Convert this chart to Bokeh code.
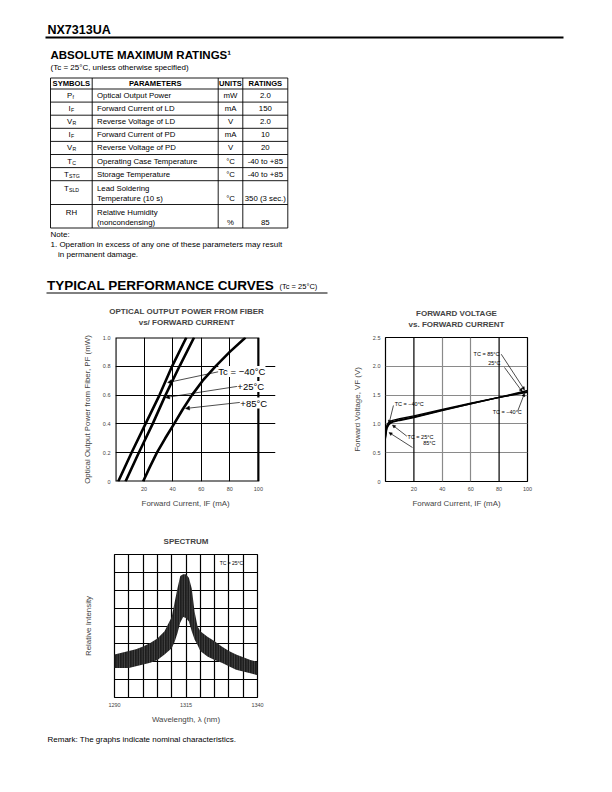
from bokeh.plotting import figure
from bokeh.layouts import column, row, Spacer
from bokeh.models import (Range1d, FixedTicker, Title, Label, Arrow, NormalHead,
                          Span, PrintfTickFormatter, BoxAnnotation)
from bokeh.embed import file_html
from bokeh.resources import INLINE
from bokeh.core.properties import value

FONT = "Liberation Sans"
NBSP = "\u00a0"

# ---------------- table data ----------------
tbl_headers = ["SYMBOLS", "PARAMETERS", "UNITS", "RATINGS"]
sym_main = ["P", "I", "V", "I", "V", "T", "T", "T", "RH"]
sym_sub = ["f", "F", "R", "F", "R", "C", "STG", "SLD", ""]
param_line1 = ["Optical Output Power", "Forward Current of LD", "Reverse Voltage of LD",
               "Forward Current of PD", "Reverse Voltage of PD", "Operating Case Temperature",
               "Storage Temperature", "Lead Soldering", "Relative Humidity"]
param_line2 = ["", "", "", "", "", "", "", "Temperature (10 s)", "(noncondensing)"]
units = ["mW", "mA", "V", "mA", "V", "°C", "°C", "°C", "%"]
ratings = ["2.0", "150", "2.0", "10", "20", "-40 to +85", "-40 to +85", "350 (3 sec.)", "85"]

# ---------------- chart 1: optical output power vs forward current ----------------
op_power = [0.0, 0.2, 0.4, 0.6, 0.8, 1.0]
op_cur_m40 = [1.9, 11.2, 21.0, 30.8, 39.6, 49.6]
op_cur_p25 = [7.0, 16.3, 26.0, 35.0, 44.8, 55.0]
op_power_85 = [0.0, 0.1, 0.2, 0.3, 0.4, 0.5, 0.6, 0.7, 0.8, 0.9, 1.0]
op_cur_p85 = [19.3, 24.0, 29.0, 34.8, 41.0, 47.0, 53.5, 61.0, 70.0, 80.0, 91.0]
op_x_ticks = [20, 40, 60, 80, 100]
op_y_ticks = [0, 0.2, 0.4, 0.6, 0.8, 1.0]

# ---------------- chart 2: forward voltage vs forward current ----------------
fv_current = [0, 0.5, 1, 2, 3, 5, 10, 20, 40, 60, 80, 100]
fv_m40 = [0.82, 0.92, 0.98, 1.02, 1.04, 1.06, 1.09, 1.14, 1.25, 1.36, 1.46, 1.55]
fv_p25 = [0.78, 0.88, 0.94, 0.99, 1.02, 1.04, 1.07, 1.12, 1.24, 1.35, 1.46, 1.56]
fv_p85 = [0.75, 0.85, 0.92, 0.97, 1.00, 1.03, 1.06, 1.11, 1.23, 1.35, 1.46, 1.58]
fv_x_ticks = [20, 40, 60, 80, 100]
fv_y_ticks = [0, 0.5, 1.0, 1.5, 2.0, 2.5]

# ---------------- chart 3: spectrum envelope ----------------
sp_wavelength = [1290, 1292.5, 1295, 1297.5, 1300, 1302.5, 1305, 1307.5, 1310, 1311, 1312,
                 1313, 1314, 1315, 1316, 1317, 1318, 1319, 1320, 1322.5, 1325, 1327.5,
                 1330, 1332.5, 1335, 1337.5, 1340]
sp_upper = [2.4, 2.5, 2.6, 2.7, 2.85, 3.05, 3.3, 3.7, 4.5, 5.3, 6.1, 6.8, 6.9, 6.9, 6.7,
            6.1, 4.8, 4.0, 3.7, 3.4, 3.15, 2.85, 2.6, 2.4, 2.25, 2.1, 2.0]
sp_lower = [1.65, 1.65, 1.65, 1.75, 1.85, 1.95, 2.1, 2.4, 2.75, 3.1, 3.6, 4.2, 4.5, 4.45,
            4.25, 3.7, 3.25, 2.95, 2.6, 2.3, 2.1, 1.95, 1.75, 1.55, 1.45, 1.35, 1.25]
sp_x_ticks = [1290, 1315, 1340]


def page_fig(w, h):
    f = figure(width=w, height=h, x_range=Range1d(0, w), y_range=Range1d(h, 0),
               output_backend="svg", toolbar_location=None, min_border=0,
               x_axis_type=None, y_axis_type=None, title=None)
    f.grid.visible = False
    f.outline_line_color = None
    return f


def txt(f, xs, ys, texts, size, bold=False, align="left"):
    f.text(x=xs, y=ys, text=texts, text_font=value(FONT), text_font_size=size,
           text_font_style="bold" if bold else "normal", text_align=align,
           text_baseline="middle", text_color="black")


# ================= header =================
hdr = page_fig(612, 300)
txt(hdr, [47], [29.5], ["NX7313UA"], "12.5px", bold=True)
hdr.segment(x0=[45], y0=[37], x1=[563], y1=[37], line_color="black", line_width=2)
txt(hdr, [50], [54.5], ["ABSOLUTE MAXIMUM RATINGS¹"], "11.5px", bold=True)
txt(hdr, [50], [66.7], ["(Tc = 25°C, unless otherwise specified)"], "8px")

col_x = [50, 91.7, 217.7, 242.3, 287.3]
row_y = [77.5, 88.5, 101.6, 114.7, 127.8, 140.9, 154.0, 167.1, 180.2, 204.0, 227.5]
hdr.segment(x0=[col_x[0]] * len(row_y), y0=row_y, x1=[col_x[-1]] * len(row_y), y1=row_y,
            line_color="black", line_width=0.9)
hdr.segment(x0=col_x, y0=[row_y[0]] * len(col_x), x1=col_x, y1=[row_y[-1]] * len(col_x),
            line_color="black", line_width=0.9)

col_c = [(col_x[i] + col_x[i + 1]) / 2 for i in range(4)]
txt(hdr, col_c, [83.2] * 4, tbl_headers, "7.6px", bold=True, align="center")

y1s, y2s = [], []
for i in range(len(sym_main)):
    top, bot = row_y[i + 1], row_y[i + 2]
    if param_line2[i]:
        y1s.append(top + 7.5)
        y2s.append(top + 17.5)
    else:
        c = (top + bot) / 2
        y1s.append(c)
        y2s.append(c)

TS = "7.8px"
txt(hdr, [96.5] * len(param_line1), y1s, param_line1, TS)
txt(hdr, [96.5] * len(param_line2), y2s, param_line2, TS)
txt(hdr, [col_c[2]] * len(units), y2s, units, TS, align="center")
txt(hdr, [col_c[3]] * len(ratings), y2s, ratings, TS, align="center")

# symbols with subscripts (approximate glyph widths for centring)
glyph_w = {"P": 5.2, "I": 2.3, "V": 5.2, "T": 4.8, "R": 5.6, "H": 5.6}
main_x, sub_x, sub_y = [], [], []
for i, (m, s) in enumerate(zip(sym_main, sym_sub)):
    wm = sum(glyph_w.get(c, 5.0) for c in m)
    ws = 3.3 * len(s)
    x0 = col_c[0] - (wm + ws) / 2
    main_x.append(x0)
    sub_x.append(x0 + wm + 0.2)
    sub_y.append(y1s[i] + 1.5)
txt(hdr, main_x, y1s, sym_main, TS)
txt(hdr, sub_x, sub_y, sym_sub, "5.2px")

txt(hdr, [50], [233.5], ["Note:"], "8px")
txt(hdr, [50], [244.3], ["1. Operation in excess of any one of these parameters may result"], "8px")
txt(hdr, [57.5], [253.8], ["in permanent damage."], "8px")

txt(hdr, [46.5], [284.5], ["TYPICAL PERFORMANCE CURVES"], "13.5px", bold=True)
txt(hdr, [279], [286], ["(Tc = 25°C)"], "7.5px")
hdr.segment(x0=[46], y0=[292.5], x1=[327], y1=[292.5], line_color="black", line_width=1)


# ================= chart helpers =================
def chart(w, h, xr, yr, left, right, top, bottom):
    p = figure(width=w, height=h, x_range=Range1d(*xr), y_range=Range1d(*yr),
               output_backend="svg", toolbar_location=None, title=None,
               min_border_left=left, min_border_right=right,
               min_border_top=top, min_border_bottom=bottom)
    p.outline_line_color = "black"
    p.outline_line_width = 1.2
    p.outline_line_alpha = 1.0
    for ax in p.axis:
        ax.axis_line_color = None
        ax.major_tick_out = 0
        ax.major_tick_in = 0
        ax.minor_tick_out = 0
        ax.minor_tick_in = 0
        ax.major_label_text_font = FONT
        ax.major_label_text_font_size = "5.5px"
        ax.major_label_standoff = 5
        ax.axis_label_text_font = FONT
        ax.axis_label_text_font_size = "7.9px"
        ax.axis_label_text_font_style = "normal"
    p.xaxis.axis_label_standoff = 5
    p.yaxis.axis_label_standoff = 8
    return p


def add_titles(p, lines, gap_font="7px", pad=0):
    # an invisible spacer title keeps the heading lines clear of the frame
    p.add_layout(Title(text=" ", text_font=FONT, text_font_size=gap_font, standoff=0), "above")
    for t in reversed(lines):
        p.add_layout(Title(text=t + NBSP * pad, align="center", text_font=FONT,
                           text_font_size="8px", text_font_style="bold", standoff=0),
                     "above")


def lab(p, x, y, t, size="7.5px", align="left", bg=None):
    p.add_layout(Label(x=x, y=y, text=t, text_font=FONT, text_font_size=size,
                       text_align=align, text_baseline="middle", text_color="black",
                       background_fill_color=bg))


def arrow(p, x0, y0, x1, y1, size=4):
    p.add_layout(Arrow(end=NormalHead(size=size, line_width=0.5, line_color="black",
                                      fill_color="black"),
                       x_start=x0, y_start=y0, x_end=x1, y_end=y1,
                       line_width=0.7, line_color="black"))


# ================= chart 1 =================
# the frame reaches past 100 mA so the temperature labels can overhang the box
p1 = chart(306, 215, (0, 112), (0, 1.0), 115, 31, 37, 34)
p1.outline_line_color = None
add_titles(p1, ["OPTICAL OUTPUT POWER FROM FIBER", "vs/ FORWARD CURRENT"],
           gap_font="7.5px", pad=8)
p1.xaxis.ticker = FixedTicker(ticks=op_x_ticks)
p1.yaxis.ticker = FixedTicker(ticks=op_y_ticks)
p1.yaxis.formatter = PrintfTickFormatter(format="%.1f")
p1.yaxis.major_label_overrides = {0: "0"}
p1.xaxis.axis_label = "Forward Current, IF (mA)" + NBSP * 9
p1.yaxis.axis_label = "Optical Output Power from Fiber, PF (mW)"
p1.xgrid.ticker = FixedTicker(ticks=op_x_ticks[:-1])
p1.ygrid.ticker = FixedTicker(ticks=op_y_ticks[1:-1])
p1.ygrid.bounds = (0, 100)
for g in (p1.xgrid, p1.ygrid):
    g.grid_line_color = "black"
    g.grid_line_width = 1
p1.add_layout(BoxAnnotation(left=0, right=100, bottom=0, top=1.0, fill_alpha=0,
                            line_color="black", line_width=2.2, line_alpha=1.0))
p1.line(op_cur_m40, op_power, line_color="black", line_width=2.6)
p1.line(op_cur_p25, op_power, line_color="black", line_width=2.6)
p1.line(op_cur_p85, op_power_85, line_color="black", line_width=2.6)
arrow(p1, 72, 0.762, 36.5, 0.687)
arrow(p1, 85, 0.66, 35, 0.583)
arrow(p1, 87, 0.549, 49, 0.507)
lab(p1, 72, 0.764, "Tc = −40°C", size="9.5px", bg="white")
lab(p1, 85.3, 0.66, "+25°C", size="9.5px", bg="white")
lab(p1, 87.4, 0.545, "+85°C", size="9.5px", bg="white")

# ================= chart 2 =================
p2 = chart(306, 215, (0, 100), (0, 2.5), 79, 85, 37, 33)
add_titles(p2, ["FORWARD VOLTAGE", "vs. FORWARD CURRENT"], gap_font="7px")
p2.xaxis.ticker = FixedTicker(ticks=fv_x_ticks)
p2.yaxis.ticker = FixedTicker(ticks=fv_y_ticks)
p2.yaxis.formatter = PrintfTickFormatter(format="%.1f")
p2.yaxis.major_label_overrides = {0: "0"}
p2.xaxis.axis_label = "Forward Current, IF (mA)"
p2.yaxis.axis_label = "Forward Voltage, VF (V)"
p2.xgrid.ticker = FixedTicker(ticks=[40, 60])
p2.ygrid.ticker = FixedTicker(ticks=fv_y_ticks[1:-1])
for g in (p2.xgrid, p2.ygrid):
    g.grid_line_color = "#8a8a8a"
    g.grid_line_width = 1.2
for loc in (20, 80):
    p2.add_layout(Span(location=loc, dimension="height", line_color="black", line_width=1.2))
p2.line(fv_current, fv_m40, line_color="black", line_width=1.4)
p2.line(fv_current, fv_p25, line_color="black", line_width=1.4)
p2.line(fv_current, fv_p85, line_color="black", line_width=1.4)
lab(p2, 62, 2.21, "TC = 85°C", size="5.5px")
lab(p2, 81, 2.05, "25°C", size="5.5px", align="right")
lab(p2, 75.5, 1.21, "TC = −40°C", size="5.5px")
lab(p2, 6.5, 1.35, "TC = −40°C", size="5.5px")
lab(p2, 15.5, 0.775, "TC = 25°C", size="5.5px")
lab(p2, 35.2, 0.67, "85°C", size="5.5px", align="right")
arrow(p2, 81.5, 2.21, 97.9, 1.59, size=3)
arrow(p2, 83.8, 1.98, 96.3, 1.56, size=3)
arrow(p2, 93.2, 1.23, 97.9, 1.53, size=3)
arrow(p2, 5.6, 1.32, 2.5, 1.01, size=3)
arrow(p2, 15, 0.787, 4.9, 0.98, size=3)
arrow(p2, 19, 0.59, 2.5, 0.85, size=3)

# ================= chart 3 =================
p3 = chart(306, 215, (1290, 1340), (0, 8), 114, 49, 39, 33)
add_titles(p3, ["SPECTRUM"], gap_font="7px")
p3.xaxis.ticker = FixedTicker(ticks=sp_x_ticks)
p3.yaxis.ticker = FixedTicker(ticks=[])
p3.yaxis.axis_label_standoff = 22
p3.yaxis.axis_label = "Relative Intensity"
p3.xaxis.axis_label = "Wavelength, λ (nm)"
p3.xgrid.ticker = FixedTicker(ticks=[1295, 1300, 1305, 1310, 1315, 1320, 1325, 1330, 1335])
p3.ygrid.ticker = FixedTicker(ticks=[1, 2, 3, 4, 5, 6, 7])
for g in (p3.xgrid, p3.ygrid):
    g.grid_line_color = "black"
    g.grid_line_width = 1.2
p3.varea(x=sp_wavelength, y1=sp_lower, y2=sp_upper, fill_color="#1e1e1e",
         hatch_pattern=value("vertical_line"), hatch_color="white", hatch_alpha=0.3,
         hatch_scale=2.5, hatch_weight=0.6)
lab(p3, 1335, 7.54, "TC = 25°C", size="5px", align="right")

# ================= footer =================
ftr = page_fig(612, 62)
txt(ftr, [47], [9], ["Remark: The graphs indicate nominal characteristics."], "8px")

layout = column(hdr, row(p1, p2), row(p3, Spacer(width=306, height=215)), ftr)

with open("out.html", "w") as fh:
    fh.write(file_html(layout, INLINE))
